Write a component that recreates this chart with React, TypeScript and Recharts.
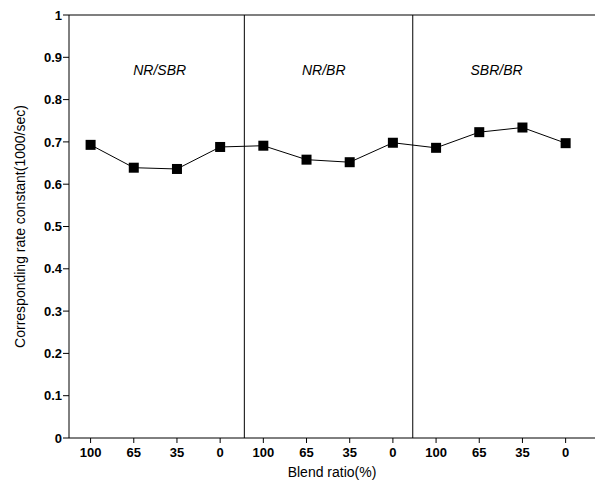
import React from "react";
import {
  LineChart,
  Line,
  XAxis,
  YAxis,
  ReferenceLine,
  ReferenceDot,
} from "recharts";

// blend ratio categories (three panels of four)
const blendLabels = ["100", "65", "35", "0", "100", "65", "35", "0", "100", "65", "35", "0"];
const rateValues = [0.693, 0.639, 0.636, 0.688, 0.691, 0.658, 0.652, 0.698, 0.686, 0.723, 0.734, 0.697];
const panelNames = ["NR/SBR", "NR/BR", "SBR/BR"];
const panelCenters = [2.1, 5.9, 9.9];
const panelDividers = [4.06, 7.96];
const xTicks = [0.5, 1.5, 2.5, 3.5, 4.5, 5.5, 6.5, 7.5, 8.5, 9.5, 10.5, 11.5];
const yTicks = [0, 0.1, 0.2, 0.3, 0.4, 0.5, 0.6, 0.7, 0.8, 0.9, 1];

const data = rateValues.map((v, i) => ({ x: xTicks[i], rate: v, label: blendLabels[i] }));

const font = "Arial, 'Liberation Sans', Helvetica, sans-serif";

const Square = (props: any) => {
  const { cx, cy } = props;
  if (cx == null || cy == null) return null;
  return <rect x={cx - 5} y={cy - 5} width={10} height={10} fill="#000" />;
};

const App: React.FC = () => {
  return (
    <div style={{ position: "absolute", left: 0, top: 0, background: "#fff" }}>
      <LineChart
        width={595}
        height={482}
        data={data}
        margin={{ top: 15, right: 0, bottom: 0, left: 0 }}
      >
        <XAxis
          dataKey="x"
          type="number"
          domain={[0, 12.18]}
          ticks={xTicks}
          tickFormatter={(v: number) => blendLabels[xTicks.indexOf(v)] ?? ""}
          height={44}
          stroke="#000"
          tickSize={5}
          tickMargin={5}
          tick={{ fill: "#000", fontSize: 13, fontWeight: "bold", fontFamily: font }}
          label={{
            value: "Blend ratio(%)",
            position: "insideBottom",
            offset: 5,
            fill: "#000",
            fontSize: 14,
            fontFamily: font,
          }}
          allowDataOverflow
        />
        <YAxis
          domain={[0, 1]}
          ticks={yTicks}
          width={69}
          stroke="#000"
          tickSize={6}
          tickMargin={1}
          tick={{ fill: "#000", fontSize: 13, fontWeight: "bold", fontFamily: font }}
          label={{
            value: "Corresponding rate constant(1000/sec)",
            angle: -90,
            position: "insideLeft",
            offset: 20,
            fill: "#000",
            fontSize: 14,
            fontFamily: font,
            style: { textAnchor: "middle" },
          }}
        />
        <ReferenceLine y={1} stroke="#000" strokeWidth={1.2} />
        {panelDividers.map((d) => (
          <ReferenceLine key={d} x={d} stroke="#000" strokeWidth={1} />
        ))}
        {panelNames.map((name, i) => (
          <ReferenceDot
            key={name}
            x={panelCenters[i]}
            y={0.87}
            r={0}
            fill="none"
            stroke="none"
            label={{
              value: name,
              position: "center",
              fill: "#000",
              fontSize: 14,
              fontStyle: "italic",
              fontFamily: font,
            }}
          />
        ))}
        <Line
          dataKey="rate"
          type="linear"
          stroke="#000"
          strokeWidth={1}
          dot={<Square />}
          activeDot={false}
          isAnimationActive={false}
        />
      </LineChart>
    </div>
  );
};

export default App;
